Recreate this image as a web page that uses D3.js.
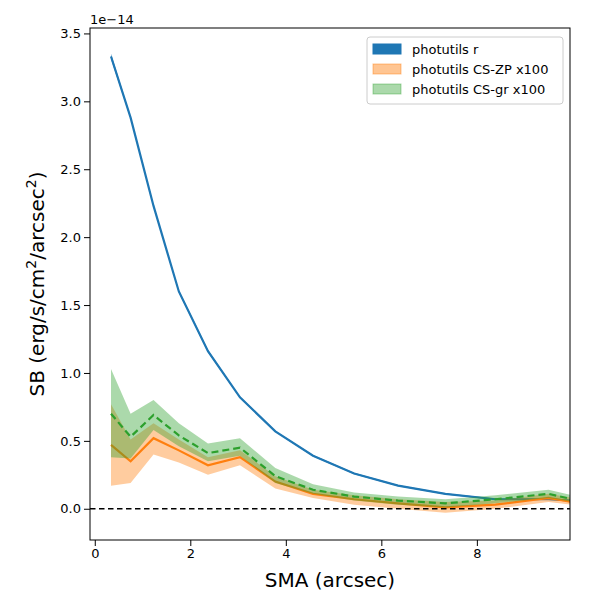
<!DOCTYPE html><html><head><script src="https://cdn.jsdelivr.net/npm/d3@7"></script>
<style>body{margin:0;background:#fff;font-family:"DejaVu Sans",sans-serif}</style></head><body><svg id="c" width="600" height="600"></svg>
<script>
const sma=[0.34,0.75,1.23,1.76,2.37,3.04,3.78,4.57,5.43,6.35,7.34,8.39,9.5,10.0];
const blue=[3.33,2.88,2.23,1.60,1.16,0.82,0.57,0.39,0.26,0.17,0.11,0.07,0.07,0.06];
const blueErr=[0.02,0.01,0.01,0.01,0.01,0.005,0.005,0.005,0.005,0.005,0.005,0.005,0.005,0.005];
const orange=[0.47,0.35,0.52,0.43,0.32,0.38,0.20,0.11,0.07,0.04,0.01,0.03,0.08,0.05];
const orangeLo=[0.17,0.19,0.40,0.34,0.25,0.32,0.15,0.08,0.03,0.0,-0.03,0.0,0.05,0.03];
const orangeHi=[0.77,0.51,0.63,0.51,0.38,0.43,0.24,0.14,0.10,0.07,0.05,0.06,0.11,0.08];
const green=[0.70,0.53,0.69,0.54,0.41,0.45,0.24,0.14,0.09,0.06,0.04,0.07,0.11,0.07];
const greenLo=[0.38,0.37,0.58,0.46,0.35,0.39,0.19,0.11,0.06,0.03,0.01,0.04,0.08,0.05];
const greenHi=[1.03,0.70,0.80,0.63,0.48,0.52,0.30,0.18,0.12,0.09,0.07,0.10,0.14,0.10];
const xTicks=[0,2,4,6,8], yTicks=[0,0.5,1,1.5,2,2.5,3,3.5];
const svg=d3.select("#c");
const L=90,R=570,T=28,B=540;
const x=d3.scaleLinear().domain([-0.1,9.95]).range([L,R]);
const y=d3.scaleLinear().domain([-0.23,3.54]).range([B,T]);
const g=svg.append("g");
const cp=svg.append("clipPath").attr("id","cl").append("rect").attr("x",L).attr("y",T).attr("width",R-L).attr("height",B-T);
const pg=g.append("g").attr("clip-path","url(#cl)");
const area=(lo,hi)=>d3.area().x((d,i)=>x(sma[i])).y0((d,i)=>y(lo[i])).y1((d,i)=>y(hi[i]));
const line=v=>d3.line().x((d,i)=>x(sma[i])).y((d,i)=>y(v[i]));
pg.append("path").attr("d",area(blue.map((v,i)=>v-blueErr[i]),blue.map((v,i)=>v+blueErr[i]))(sma)).attr("fill","#1f77b4").attr("opacity",0.8);
pg.append("path").attr("d",line(blue)(sma)).attr("fill","none").attr("stroke","#1f77b4").attr("stroke-width",2.2);
pg.append("path").attr("d",area(orangeLo,orangeHi)(sma)).attr("fill","#ff7f0e").attr("opacity",0.4);
pg.append("path").attr("d",line(orange)(sma)).attr("fill","none").attr("stroke","#ff7f0e").attr("stroke-width",2.2);
pg.append("path").attr("d",area(greenLo,greenHi)(sma)).attr("fill","#2ca02c").attr("opacity",0.4);
pg.append("path").attr("d",line(green)(sma)).attr("fill","none").attr("stroke","#2ca02c").attr("stroke-width",2.2).attr("stroke-dasharray","7,4");
pg.append("line").attr("x1",L).attr("x2",R).attr("y1",y(0)).attr("y2",y(0)).attr("stroke","#000").attr("stroke-width",1.5).attr("stroke-dasharray","5.5,3.5");
g.append("g").attr("transform",`translate(0,${B})`).call(d3.axisBottom(x).tickValues(xTicks).tickFormat(d3.format("d")).tickSizeOuter(0)).attr("font-size",13).attr("font-family","DejaVu Sans");
g.append("g").attr("transform",`translate(${L},0)`).call(d3.axisLeft(y).tickValues(yTicks).tickFormat(d3.format(".1f")).tickSizeOuter(0)).attr("font-size",13).attr("font-family","DejaVu Sans");
g.selectAll(".domain").remove();
g.append("rect").attr("x",L).attr("y",T).attr("width",R-L).attr("height",B-T).attr("fill","none").attr("stroke","#000");
svg.append("text").attr("x",L).attr("y",T-4).attr("font-size",13).text("1e\u221214");
svg.append("text").attr("x",(L+R)/2).attr("y",587).attr("text-anchor","middle").attr("font-size",20).text("SMA (arcsec)");
const yl=svg.append("text").attr("transform",`translate(44,${(T+B)/2}) rotate(-90)`).attr("text-anchor","middle").attr("font-size",20);
yl.append("tspan").text("SB (erg/s/cm");yl.append("tspan").attr("dy",-8).attr("font-size",14).text("2");
yl.append("tspan").attr("dy",8).text("/arcsec");yl.append("tspan").attr("dy",-8).attr("font-size",14).text("2");yl.append("tspan").attr("dy",8).text(")");
const leg=svg.append("g").attr("transform","translate(367,37)");
leg.append("rect").attr("width",196).attr("height",67).attr("rx",3).attr("fill","#fff").attr("stroke","#ccc");
const items=[["photutils r","#1f77b4",1,"#1f77b4"],["photutils CS-ZP x100","#ff7f0e",0.45,"#ff7f0e"],["photutils CS-gr x100","#2ca02c",0.4,"#2ca02c"]];
items.forEach((it,i)=>{leg.append("rect").attr("x",6).attr("y",7+i*20).attr("width",28).attr("height",10).attr("fill",it[1]).attr("fill-opacity",it[2]).attr("stroke",it[3]).attr("stroke-opacity",it[2]);
leg.append("text").attr("x",45).attr("y",17+i*20).attr("font-size",13).text(it[0]);});
</script></body></html>
